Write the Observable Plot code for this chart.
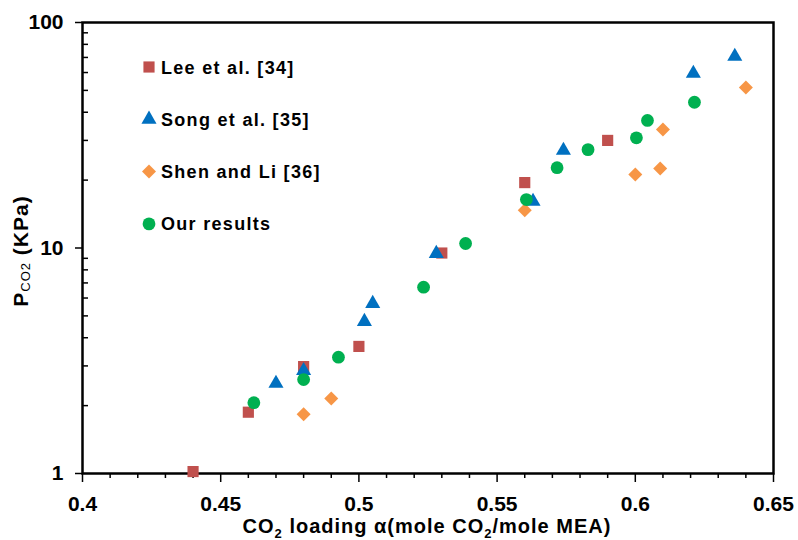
<!DOCTYPE html>
<html><head><meta charset="utf-8">
<script src="https://cdn.jsdelivr.net/npm/d3@7"></script>
<script src="https://cdn.jsdelivr.net/npm/@observablehq/plot@0.6"></script>
<style>
body{margin:0;background:#fff;}
#chart{position:relative;width:798px;height:540px;}
</style>
</head><body><div id="chart"></div>
<script>
// Data
const leeAlpha = [0.44, 0.46, 0.48, 0.50, 0.53, 0.56, 0.59];
const leeP = [1.02, 1.87, 2.98, 3.66, 9.5, 19.5, 30.0];
const songAlpha = [0.47, 0.48, 0.502, 0.505, 0.528, 0.563, 0.574, 0.621, 0.636];
const songP = [2.51, 2.86, 4.72, 5.67, 9.45, 16.1, 27.1, 59.4, 70.7];
const shenAlpha = [0.48, 0.49, 0.56, 0.60, 0.609, 0.61, 0.64];
const shenP = [1.83, 2.15, 14.7, 21.2, 22.5, 33.5, 51.5];
const oursAlpha = [0.462, 0.48, 0.4926, 0.5234, 0.5386, 0.5606, 0.5717, 0.5829, 0.6004, 0.6044, 0.6214];
const oursP = [2.06, 2.61, 3.28, 6.70, 10.47, 16.4, 22.7, 27.3, 30.8, 36.8, 44.3];

const seriesNames = ["Lee et al. [34]", "Song et al. [35]", "Shen and Li [36]", "Our results"];
const seriesSymbols = ["square", "triangle", "diamond2", "circle"];
const seriesColors = ["#C0504D", "#0070C0", "#F79646", "#00B050"];

const xTicks = [0.4, 0.45, 0.5, 0.55, 0.6, 0.65];
const xTickLabels = ["0.4", "0.45", "0.5", "0.55", "0.6", "0.65"];
const xMinorTicks = [0.41,0.42,0.43,0.44,0.46,0.47,0.48,0.49,0.51,0.52,0.53,0.54,0.56,0.57,0.58,0.59,0.61,0.62,0.63,0.64];
const yTicks = [1, 10, 100];
const yTickLabels = ["1", "10", "100"];
const yMinorTicks = [2,3,4,5,6,7,8,9,20,30,40,50,60,70,80,90];

const toRows = (a, p) => a.map((x, i) => ({alpha: x, p: p[i]}));
const series = [toRows(leeAlpha, leeP), toRows(songAlpha, songP), toRows(shenAlpha, shenP), toRows(oursAlpha, oursP)];
const seriesR = [6.3, 5.6, 6.3, 6.4];

const font = "'Liberation Sans', Arial, sans-serif";

const chart = Plot.plot({
  width: 798, height: 540,
  marginLeft: 82, marginRight: 25, marginTop: 22, marginBottom: 67,
  style: {fontFamily: font, fontSize: "21px", fontWeight: "bold", color: "black", background: "white"},
  x: {domain: [0.4, 0.65]},
  y: {type: "log", domain: [1, 100]},
  marks: [
    Plot.axisX({ticks: xMinorTicks, tickSize: 5, tickFormat: () => "", label: null, strokeWidth: 1.5}),
    Plot.axisX({ticks: xTicks, tickSize: 9, tickPadding: 14, tickFormat: d => xTickLabels[xTicks.indexOf(d)], label: null, strokeWidth: 1.5}),
    Plot.axisY({ticks: yMinorTicks, tickSize: 6, dx: 6, tickFormat: () => "", label: null, strokeWidth: 1.5}),
    Plot.axisY({ticks: yTicks, tickSize: 7, tickPadding: 12, tickFormat: d => yTickLabels[yTicks.indexOf(d)], label: null, strokeWidth: 1.5}),
    Plot.frame({stroke: "black", strokeWidth: 2.5}),
    ...series.map((rows, i) => Plot.dot(rows, {x: "alpha", y: "p", symbol: seriesSymbols[i], r: seriesR[i], fill: seriesColors[i], stroke: "none"}))
  ]
});
document.getElementById("chart").appendChild(chart);

const svg = d3.select(chart);

// Legend
const symMap = {square: d3.symbolSquare, triangle: d3.symbolTriangle, diamond2: d3.symbolDiamond2, circle: d3.symbolCircle};
seriesNames.forEach((name, i) => {
  const cy = 67 + i * 52.3;
  const r = seriesR[i];
  svg.append("path")
    .attr("transform", `translate(149,${cy})`)
    .attr("d", d3.symbol(symMap[seriesSymbols[i]], r * r * Math.PI)())
    .attr("fill", seriesColors[i]);
  svg.append("text")
    .attr("x", 161).attr("y", cy + 6.5)
    .attr("text-anchor", "start")
    .attr("font-family", font).attr("font-size", 18).attr("font-weight", "bold")
    .attr("letter-spacing", "1.3px")
    .attr("fill", "black")
    .text(name);
});

// X axis label
const xl = svg.append("text")
  .attr("x", 427).attr("y", 533).attr("text-anchor", "middle")
  .attr("font-family", font).attr("font-size", 20).attr("font-weight", "bold")
  .attr("letter-spacing", "1px").attr("fill", "black");
xl.append("tspan").text("CO");
xl.append("tspan").attr("font-size", 13).attr("dy", 5).text("2");
xl.append("tspan").attr("dy", -5).text(" loading α(mole CO");
xl.append("tspan").attr("font-size", 13).attr("dy", 5).text("2");
xl.append("tspan").attr("dy", -5).text("/mole MEA)");

// Y axis label
const yl = svg.append("text")
  .attr("transform", "translate(28,251) rotate(-90)").attr("text-anchor", "middle")
  .attr("font-family", font).attr("font-size", 21).attr("font-weight", "bold")
  .attr("letter-spacing", "1px").attr("fill", "black");
yl.append("tspan").text("P");
yl.append("tspan").attr("font-size", 13).attr("font-weight", "normal").attr("dy", 2).text("CO2");
yl.append("tspan").attr("dy", -2).text(" (KPa)");
</script>
</body></html>
